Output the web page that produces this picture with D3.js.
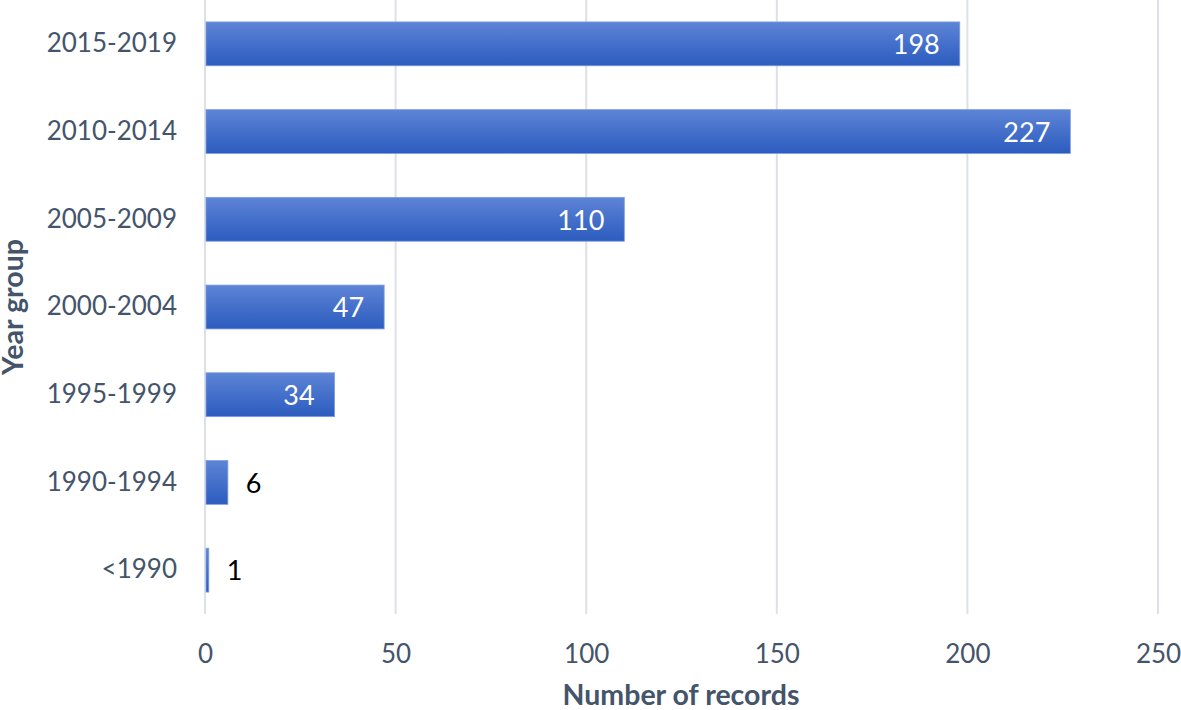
<!DOCTYPE html>
<html>
<head>
<meta charset="utf-8">
<script src="https://cdn.jsdelivr.net/npm/d3@7"></script>
<style>
  body { margin: 0; background: #fff; }
  text { font-family: Lato, "Open Sans", sans-serif; }
</style>
</head>
<body>
<script>
// 幅と高さ
const w = 1181;
const h = 710;

const categories = ["2015-2019", "2010-2014", "2005-2009", "2000-2004", "1995-1999", "1990-1994", "<1990"];
const records = [198, 227, 110, 47, 34, 6, 1];
const xTicks = [0, 50, 100, 150, 200, 250];

const margin = { top: 0, right: 23, bottom: 96, left: 205 };
const textColor = "#44546a";

const svg = d3.select("body").append("svg").attr("width", w).attr("height", h);

// バーのグラデーション
const grad = svg.append("defs").append("linearGradient")
  .attr("id", "barGrad")
  .attr("x1", 0).attr("y1", 0).attr("x2", 0).attr("y2", 1);
grad.append("stop").attr("offset", "0%").attr("stop-color", "#5d84d6");
grad.append("stop").attr("offset", "100%").attr("stop-color", "#2c5cbf");

const x = d3.scaleLinear()
  .domain([0, 250])
  .range([margin.left, w - margin.right]);

const y = d3.scaleBand()
  .domain(categories)
  .range([margin.top, h - margin.bottom])
  .paddingInner(0.5)
  .paddingOuter(0.25);

// グリッド線
svg.append("g")
  .selectAll("line")
  .data(xTicks)
  .enter()
  .append("line")
  .attr("x1", (d) => x(d))
  .attr("x2", (d) => x(d))
  .attr("y1", 0)
  .attr("y2", h - margin.bottom)
  .attr("stroke", "#dde1e7")
  .attr("stroke-width", 2);

// x 軸
const xAxis = svg.append("g")
  .attr("transform", "translate(0," + (h - margin.bottom) + ")")
  .call(d3.axisBottom(x).tickValues(xTicks).tickSize(0).tickPadding(31));
xAxis.select(".domain").remove();
xAxis.selectAll("text")
  .attr("font-size", "26px")
  .attr("fill", textColor)
  .style("font-family", "Lato, sans-serif");

// y 軸
const yAxis = svg.append("g")
  .attr("transform", "translate(" + margin.left + ",0)")
  .call(d3.axisLeft(y).tickSize(0).tickPadding(28));
yAxis.select(".domain").remove();
yAxis.selectAll("text")
  .attr("font-size", "26px")
  .attr("fill", textColor)
  .style("font-family", "Lato, sans-serif");

// バー
svg.selectAll("rect.bar")
  .data(records)
  .enter()
  .append("rect")
  .attr("class", "bar")
  .attr("x", x(0) + 1)
  .attr("y", (d, i) => y(categories[i]))
  .attr("width", (d) => x(d) - x(0) - 1)
  .attr("height", y.bandwidth())
  .attr("fill", "url(#barGrad)")
  .attr("stroke", "#7e9ee0")
  .attr("stroke-width", 0.8);

// ラベル
svg.selectAll("text.label")
  .data(records)
  .enter()
  .append("text")
  .attr("class", "label")
  .text((d) => d)
  .attr("x", (d) => (x(d) - x(0) > 60 ? x(d) - 20 : x(d) + 18))
  .attr("y", (d, i) => y(categories[i]) + y.bandwidth() / 2)
  .attr("dy", "0.38em")
  .attr("text-anchor", (d) => (x(d) - x(0) > 60 ? "end" : "start"))
  .attr("font-size", "27px")
  .attr("fill", (d) => (x(d) - x(0) > 60 ? "white" : "black"));

// 軸タイトル
svg.append("text")
  .text("Number of records")
  .attr("x", 681)
  .attr("y", 705)
  .attr("text-anchor", "middle")
  .attr("font-size", "28.5px")
  .attr("font-weight", "bold")
  .attr("fill", textColor);

svg.append("text")
  .text("Year group")
  .attr("transform", "translate(23,307) rotate(-90)")
  .attr("text-anchor", "middle")
  .attr("font-size", "28.5px")
  .attr("font-weight", "bold")
  .attr("fill", textColor);
</script>
</body>
</html>
